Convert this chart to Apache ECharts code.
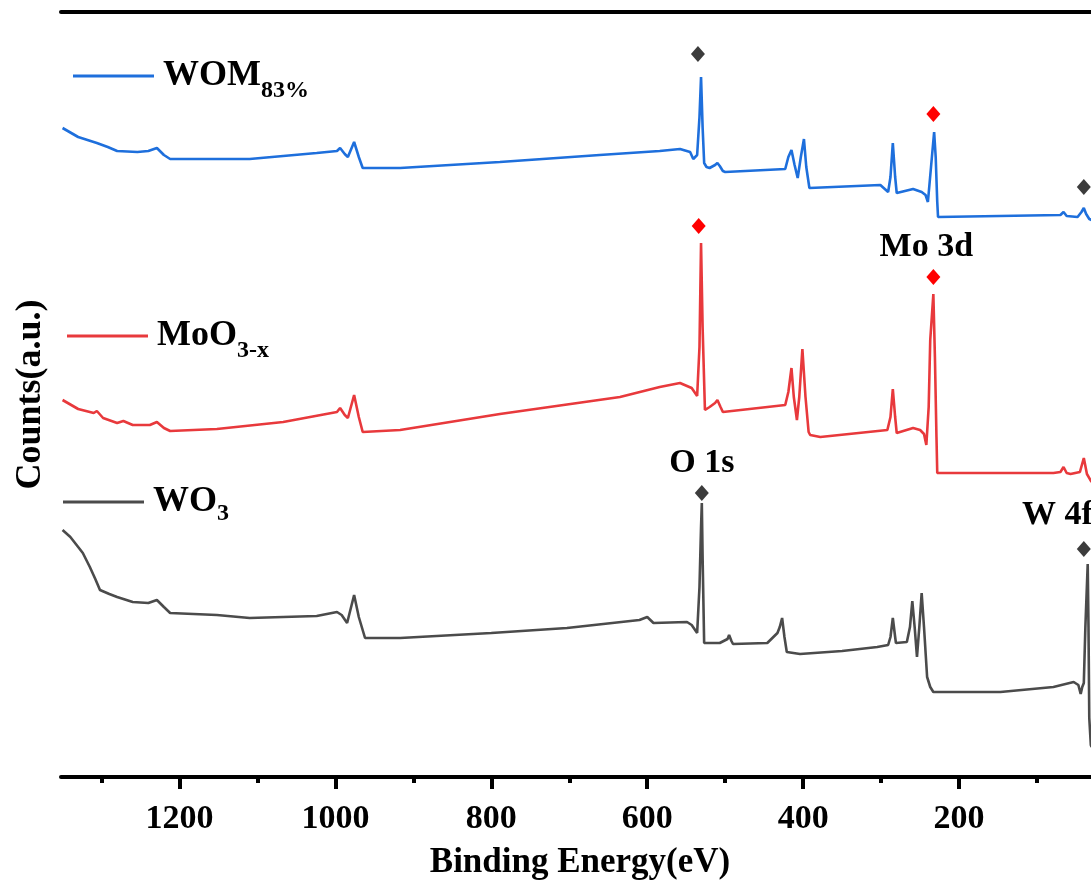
<!DOCTYPE html>
<html>
<head>
<meta charset="utf-8">
<script src="https://cdn.jsdelivr.net/npm/echarts@6/dist/echarts.min.js"></script>
<style>
html,body{margin:0;padding:0;background:#fff;overflow:hidden;}
#c{width:1091px;height:883px;}
</style>
</head>
<body>
<div id="c"></div>
<script>
// ---- data (binding energy in eV, counts in arbitrary units, stacked offsets as in the figure) ----
const seriesNames = ['WOM83%', 'MoO3-x', 'WO3'];
const seriesColors = ['#1e6fdc', '#e8393c', '#4b4b4b'];

const womData = [[1350,649],[1330,640],[1306,634],[1292,630],[1280,626],[1254,625],[1240,626],[1229,629],[1220,622],[1212,618],[1152,618],[1110,618],[1067,621],[1024,624],[998,626],[994,629],[988,623],[984,620],[976,635],[970,620],[965,609],[917,609],[789,615],[661,622],[584,626],[558,628],[545,625],[541,618],[536,622],[533,660],[531,700],[529,650],[527,614],[524,610],[520,609],[513,612],[510,614],[507,611],[503,606],[500,605],[423,608],[419,620],[415,627],[411,612],[407,599],[403,620],[399,638],[396,610],[392,589],[301,592],[291,585],[288,600],[285,634],[282,600],[280,584],[259,588],[248,585],[243,582],[240,575],[236,610],[232,645],[230,620],[228,575],[227,560],[70,562],[66,565],[62,561],[48,560],[43,565],[40,569],[37,563],[33,558],[30,557]];

const mooData = [[1350,377],[1330,368],[1310,364],[1306,366],[1298,359],[1280,354],[1272,356],[1260,352],[1238,352],[1229,355],[1220,349],[1212,346],[1152,348],[1067,355],[998,365],[994,369],[988,362],[984,359],[976,382],[970,360],[965,345],[917,347],[789,363],[635,380],[584,390],[558,394],[543,389],[536,381],[533,430],[531,534],[529,450],[526,367],[520,370],[513,374],[510,377],[506,370],[503,365],[423,372],[419,385],[415,409],[412,380],[408,357],[405,380],[401,428],[397,380],[393,345],[391,342],[378,340],[292,347],[288,360],[285,388],[282,360],[280,344],[259,349],[250,347],[245,343],[242,332],[239,370],[237,437],[235,460],[233,483],[231,420],[229,340],[228,304],[79,304],[70,305],[66,310],[62,304],[57,303],[45,305],[40,319],[36,303],[30,295]];

const wo3Data = [[1350,247],[1340,240],[1324,224],[1315,210],[1308,198],[1302,187],[1290,183],[1280,180],[1260,175],[1240,174],[1229,177],[1220,170],[1212,164],[1152,162],[1110,159],[1024,161],[998,165],[992,162],[985,154],[976,182],[970,160],[962,139],[917,139],[800,144],[703,149],[610,157],[600,160],[592,154],[549,155],[543,152],[536,144],[533,190],[531,250],[530,274],[529,220],[527,134],[507,134],[497,138],[495,142],[492,136],[490,133],[446,134],[433,144],[430,150],[427,159],[424,140],[421,125],[404,123],[350,126],[305,130],[291,132],[288,140],[285,159],[282,140],[281,134],[267,135],[263,150],[260,176],[257,150],[254,120],[251,150],[248,184],[245,150],[241,100],[237,90],[233,85],[147,85],[79,90],[53,95],[47,92],[44,83],[42,90],[40,94],[38,150],[35,213],[34,150],[33,59],[31,32],[30,30]];

// peak markers (diamonds)
const grayMarks = [[535,723],[40,590],[530,284],[40,228]];
const redMarks = [[233,663],[534,551],[233,500]];
// peak annotations
const annotations = [
  {name:'O 1s', value:[530,314]},
  {name:'Mo 3d', value:[242,530]},
  {name:'W 4f', value:[74,262]}
];

const majorTicks = [200,400,600,800,1000,1200];
const minorTicks = [100,300,500,700,900,1100,1300];

// ---- chart ----
const FONT = "'Liberation Serif','Times New Roman',serif";
const chart = echarts.init(document.getElementById('c'), null, {renderer:'canvas'});

const xCommon = {type:'value', min:0, max:1352, inverse:true, splitLine:{show:false}, gridIndex:0};

function legendFor(idx, left, top, subPad) {
  const rich = {
    m:{fontSize:36, fontWeight:'bold', fontFamily:FONT, color:'#000', lineHeight:36, padding:[0,0,0,4]},
    s:{fontSize:24, fontWeight:'bold', fontFamily:FONT, color:'#000', lineHeight:24, padding:[subPad,0,0,0]}
  };
  const parts = {'WOM83%':['WOM','83%'], 'MoO3-x':['MoO','3-x'], 'WO3':['WO','3']}[seriesNames[idx]];
  return {
    data:[{name:seriesNames[idx], icon:'rect'}], left:left, top:top, padding:0, itemWidth:81, itemHeight:3,
    selectedMode:false, orient:'vertical',
    itemStyle:{color:seriesColors[idx], borderWidth:0},
    formatter: () => '{m|' + parts[0] + '}{s|' + parts[1] + '}',
    textStyle:{rich:rich}
  };
}

const lineSeries = [womData, mooData, wo3Data].map((d, i) => ({
  name: seriesNames[i], type:'line', data:d, symbol:'none', showSymbol:false,
  lineStyle:{color:seriesColors[i], width:2.6}, itemStyle:{color:seriesColors[i]},
  animation:false, z:2
}));

chart.setOption({
  animation:false,
  backgroundColor:'#fff',
  grid:{left:61, top:12, bottom:106, width:1054, containLabel:false, outerBoundsMode:'none'},
  legend:[legendFor(0,73,49,30), legendFor(1,67,309,30), legendFor(2,63,478,24)],
  xAxis:[
    Object.assign({}, xCommon, {
      position:'bottom',
      axisLine:{show:true, lineStyle:{color:'#000', width:4}},
      axisTick:{show:true, customValues:majorTicks, length:12, lineStyle:{color:'#000', width:4}},
      axisLabel:{show:true, customValues:majorTicks, margin:25, fontSize:34, fontWeight:'bold', fontFamily:FONT, color:'#000',
        formatter:(v) => String(v)},
      name:'Binding Energy(eV)', nameLocation:'middle', nameGap:68,
      nameTextStyle:{fontSize:35, fontWeight:'bold', fontFamily:FONT, color:'#000', padding:[0,16,0,0]}
    }),
    Object.assign({}, xCommon, {
      position:'bottom',
      axisLine:{show:false},
      axisTick:{show:true, customValues:minorTicks, length:6, lineStyle:{color:'#000', width:4}},
      axisLabel:{show:false}
    }),
    Object.assign({}, xCommon, {
      position:'top',
      axisLine:{show:true, lineStyle:{color:'#000', width:4}},
      axisTick:{show:false}, axisLabel:{show:false}
    })
  ],
  yAxis:{
    type:'value', min:0, max:765,
    axisLine:{show:true, lineStyle:{color:'#000', width:4}},
    axisTick:{show:false}, axisLabel:{show:false}, splitLine:{show:false},
    name:'Counts(a.u.)', nameLocation:'middle', nameRotate:90, nameGap:12,
    nameTextStyle:{fontSize:36, fontWeight:'bold', fontFamily:FONT, color:'#000'}
  },
  series: lineSeries.concat([
    {name:'grayMarks', type:'scatter', data:grayMarks, symbol:'diamond', symbolSize:[14,16],
     itemStyle:{color:'#3c3c3c', opacity:1}, z:3, silent:true},
    {name:'redMarks', type:'scatter', data:redMarks, symbol:'diamond', symbolSize:[14,16],
     itemStyle:{color:'#ff0000', opacity:1}, z:3, silent:true},
    {name:'labels', type:'scatter', data:annotations, symbolSize:0, z:4, silent:true,
     itemStyle:{opacity:1},
     label:{show:true, position:'inside', formatter:'{b}', fontSize:34, fontWeight:'bold', fontFamily:FONT, color:'#000'}}
  ])
});
</script>
</body>
</html>
